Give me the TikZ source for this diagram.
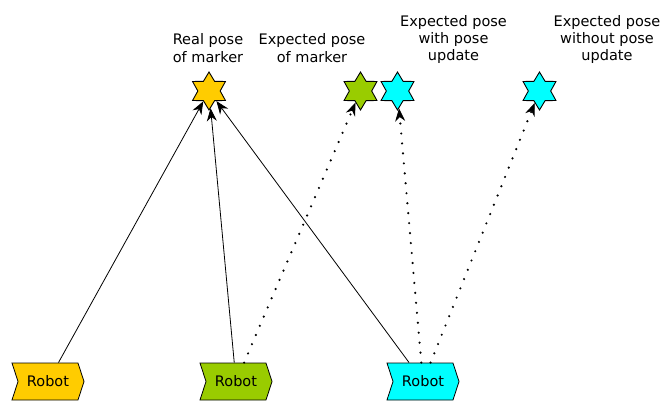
\documentclass[tikz,border=0pt]{standalone}
\usepackage{fontspec}
\setmainfont{DejaVu Sans}
\usepackage{tikz}
\usetikzlibrary{positioning, shapes, shapes.geometric, shapes.symbols, arrows.meta}

\definecolor{poseyellow}{HTML}{FFCC00}
\definecolor{posegreen}{HTML}{99CC00}
\definecolor{posecyan}{HTML}{00FFFF}

\tikzset{
  robot/.style={signal, signal from=west, signal to=east, signal pointer angle=144,
    draw=black, line width=0.8pt, minimum width=72pt, minimum height=37pt, inner sep=0pt,
    font=\fontsize{14.5}{17}\selectfont},
  pose/.style={star, star points=6, star point ratio=1.7, draw=black, line width=0.9pt,
    minimum size=38pt, inner sep=0pt},
  caption/.style={align=center, font=\fontsize{14.5}{17.3}\selectfont},
  seen/.style={-{Stealth[length=13pt, width=10pt, line width=0.8pt]}, line width=0.8pt},
  guess/.style={seen, line width=2.4pt, dash pattern=on 0pt off 10pt, line cap=round},
}

\begin{document}
\begin{tikzpicture}[x=1pt, y=1pt]
      \useasboundingbox (0,0) rectangle (668,401);

      % robots on the ground
      \node [robot, fill=poseyellow] (r1) at (48,19.5) {Robot};
      \node [robot, fill=posegreen] (r2) at (236,19.5) {Robot};
      \node [robot, fill=posecyan] (r3) at (423,19.5) {Robot};

      % marker poses
      \node [pose, fill=poseyellow] (ystar) at (209,310) {};
      \node [pose, fill=posegreen] (gstar) at (360.5,310) {};
      \node [pose, fill=posecyan] (cstar) at (397.5,310) {};
      \node [pose, fill=posecyan] (cfar) at (539.5,310) {};

      \node [caption] (ylab) at (208,353) {Real pose\\of marker};
      \node [caption] (glab) at (312,353) {Expected pose\\of marker};
      \node [caption] (clab) at (453.5,361.5) {Expected pose\\with pose\\update};
      \node [caption] (flab) at (607,361.5) {Expected pose\\without pose\\update};

      % observations
      \draw [seen] (r1) -- (ystar);
      \draw [seen] (r2) -- (ystar);
      \draw [seen] (r3) -- (ystar);
      \draw [guess] (r2) -- (gstar);
      \draw [guess] (r3) -- (cstar);
      \draw [guess] (r3) -- (cfar);

\end{tikzpicture}
\end{document}
